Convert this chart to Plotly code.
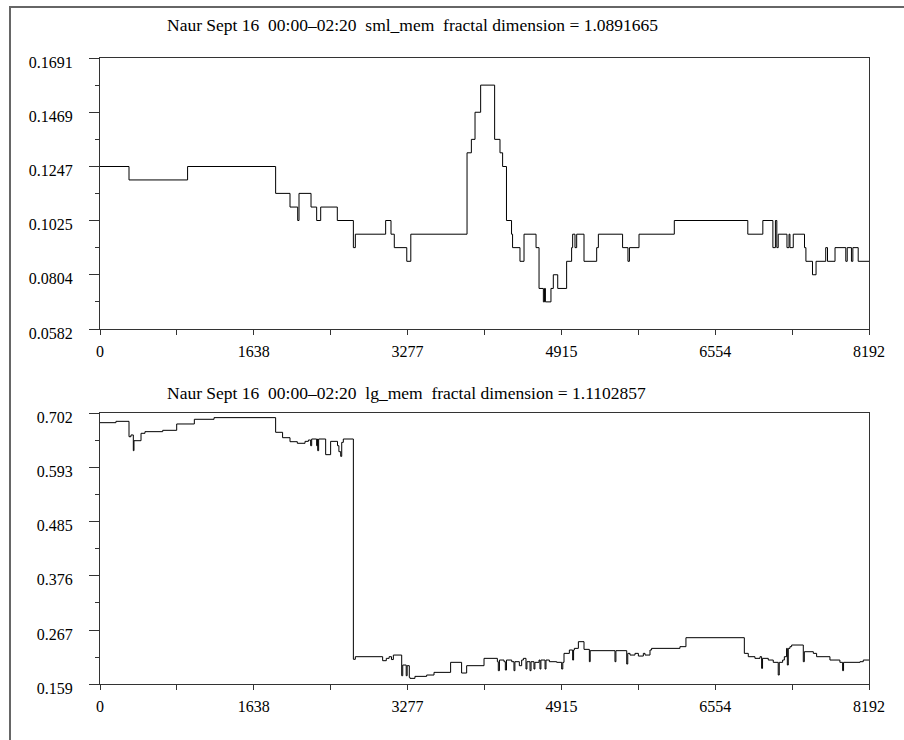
import plotly.graph_objects as go

W, H = 904, 740

# ---------------- data ----------------
top_title = "Naur Sept 16  00:00\u201302:20  sml_mem  fractal dimension = 1.0891665"
bot_title = "Naur Sept 16  00:00\u201302:20  lg_mem  fractal dimension = 1.1102857"

x_tickvals = [0, 1638.4, 3276.8, 4915.2, 6553.6, 8192]
x_ticktext = ["0", "1638", "3277", "4915", "6554", "8192"]
x_minorvals = [819.2, 2457.6, 4096.0, 5734.4, 7372.8]

top_yticks = [0.0582, 0.0804, 0.1025, 0.1247, 0.1469, 0.1691]
top_yminor = [0.0693, 0.0915, 0.1136, 0.1358, 0.1580]
bot_yticks = [0.159, 0.267, 0.376, 0.485, 0.593, 0.702]
bot_yminor = [0.213, 0.3215, 0.4305, 0.539, 0.6475]

top_idx = [0, 309, 933, 1871, 2024, 2106, 2120, 2248, 2308, 2351, 2528, 2699, 2720,
           3043, 3100, 3135, 3268, 3311, 3910, 3956, 3995, 4055, 4204, 4261, 4289,
           4330, 4384, 4395, 4474, 4517, 4645, 4677, 4723, 4735, 4745, 4804, 4829,
           4876, 4971, 5024, 5035, 5060, 5078, 5156, 5291, 5309, 5567, 5624, 5640,
           5742, 6118, 6901, 7061, 7168, 7195, 7210, 7225, 7318, 7340, 7350, 7385,
           7505, 7520, 7590, 7628, 7731, 7750, 7830, 7945, 7960, 8005, 8020, 8077, 8192]
top_val = [0.1247, 0.1192, 0.1247, 0.1137, 0.1081, 0.1026, 0.1137, 0.1081, 0.1026, 0.1081,
           0.1026, 0.0915, 0.0970, 0.1026, 0.0970, 0.0915, 0.0859, 0.0970, 0.1303, 0.1358,
           0.1469, 0.1580, 0.1358, 0.1303, 0.1247, 0.1026, 0.0970, 0.0915, 0.0859, 0.0970,
           0.0915, 0.0748, 0.0693, 0.0748, 0.0693, 0.0748, 0.0804, 0.0748, 0.0859, 0.0915,
           0.0970, 0.0915, 0.0970, 0.0859, 0.0915, 0.0970, 0.0915, 0.0859, 0.0915, 0.0970,
           0.1026, 0.0970, 0.1026, 0.0915, 0.1026, 0.0915, 0.0970, 0.0915, 0.0970, 0.0915,
           0.0970, 0.0915, 0.0859, 0.0804, 0.0859, 0.0915, 0.0859, 0.0915, 0.0859, 0.0915,
           0.0859, 0.0915, 0.0859, 0.0859]

bot_idx = [0, 170, 309, 330, 355, 362, 437, 479, 668, 817, 1005, 1215, 1871, 1945, 2024,
           2102, 2184, 2220, 2244, 2255, 2308, 2315, 2319, 2329, 2404, 2457, 2530, 2545,
           2564, 2575, 2592, 2699, 2720, 3011, 3050, 3080, 3105, 3125, 3214, 3225, 3262,
           3272, 3295, 3302, 3355, 3480, 3558, 3735, 3852, 3906, 4091, 4233, 4243, 4255,
           4304, 4318, 4330, 4386, 4410, 4420, 4467, 4492, 4510, 4538, 4548, 4581, 4592,
           4623, 4633, 4677, 4687, 4697, 4741, 4751, 4787, 4865, 4918, 4930, 4943, 5000,
           5035, 5045, 5053, 5096, 5156, 5213, 5222, 5486, 5496, 5611, 5622, 5646, 5699,
           5735, 5788, 5806, 5859, 5876, 6178, 6242, 6864, 6906, 6977, 7031, 7048, 7058,
           7119, 7172, 7225, 7236, 7272, 7290, 7314, 7322, 7332, 7350, 7368, 7492, 7503,
           7599, 7634, 7776, 7882, 7911, 7921, 8096, 8131, 8192]
bot_val = [0.6826, 0.6853, 0.6545, 0.6580, 0.6265, 0.6465, 0.6613, 0.6646, 0.6673, 0.6800,
           0.6894, 0.6927, 0.6633, 0.6525, 0.6445, 0.6413, 0.6452, 0.6479, 0.6365, 0.6499,
           0.6365, 0.6499, 0.6265, 0.6499, 0.6185, 0.6452, 0.6365, 0.6245, 0.6151, 0.6432,
           0.6499, 0.2085, 0.2137, 0.2057, 0.2104, 0.2137, 0.2080, 0.2170, 0.1756, 0.1970,
           0.1756, 0.1957, 0.1723, 0.1703, 0.1743, 0.1770, 0.1823, 0.2024, 0.1810, 0.1957,
           0.2104, 0.2037, 0.1857, 0.2070, 0.2037, 0.1870, 0.2070, 0.2037, 0.1857, 0.2037,
           0.1957, 0.2070, 0.2104, 0.1890, 0.2037, 0.1857, 0.2037, 0.1890, 0.2024, 0.2070,
           0.1890, 0.2070, 0.1890, 0.2070, 0.2037, 0.2024, 0.1890, 0.2024, 0.2204, 0.2271,
           0.2070, 0.2271, 0.2304, 0.2438, 0.2284, 0.2037, 0.2258, 0.2037, 0.2258, 0.1990,
           0.2204, 0.2170, 0.2204, 0.2150, 0.2204, 0.2170, 0.2271, 0.2304, 0.2338, 0.2518,
           0.2204, 0.2137, 0.2104, 0.2137, 0.1903, 0.2104, 0.2070, 0.2024, 0.1770, 0.2024,
           0.2070, 0.2137, 0.2304, 0.1970, 0.2304, 0.2338, 0.2371, 0.2037, 0.2237, 0.2204,
           0.2137, 0.2070, 0.2024, 0.1857, 0.2024, 0.2037, 0.2070, 0.2070]

# ---------------- figure ----------------
FONT = "Liberation Serif"
AXC = "#333333"
TICKSIZE = 16
TITLESIZE = 17.5

fig = go.Figure()
fig.add_trace(go.Scatter(x=top_idx, y=top_val, mode="lines", line_shape="hv",
                         line=dict(color="black", width=1), xaxis="x", yaxis="y",
                         showlegend=False, hoverinfo="skip"))
fig.add_trace(go.Scatter(x=bot_idx, y=bot_val, mode="lines", line_shape="hv",
                         line=dict(color="black", width=1), xaxis="x2", yaxis="y2",
                         showlegend=False, hoverinfo="skip"))

xd = [100 / W, 869 / W]
yd_top = [1 - 329 / H, 1 - 58 / H]
yd_bot = [1 - 684 / H, 1 - 413 / H]


def xaxis(anchor):
    return dict(domain=xd, anchor=anchor, range=[0, 8192], tickmode="array",
                tickvals=x_tickvals, ticktext=x_ticktext, ticks="outside", ticklen=5,
                tickwidth=1, tickcolor=AXC, showline=True, linecolor=AXC, linewidth=1,
                mirror=True, showgrid=False, zeroline=False, ticklabelstandoff=3,
                automargin=False,
                tickfont=dict(family=FONT, size=TICKSIZE, color="black"),
                minor=dict(tickmode="array", tickvals=x_minorvals, ticks="outside",
                           ticklen=5, tickwidth=1, tickcolor=AXC, showgrid=False))


def yaxis(anchor, dom, ticks, minor):
    return dict(domain=dom, anchor=anchor, range=[ticks[0], ticks[-1]], tickmode="array",
                tickvals=ticks, ticktext=[str(t) for t in ticks], ticks="outside",
                ticklen=10, tickwidth=1, tickcolor=AXC, showline=True, linecolor=AXC,
                linewidth=1, mirror=True, showgrid=False, zeroline=False,
                ticklabelstandoff=13, ticklabelshift=4, automargin=False,
                tickfont=dict(family=FONT, size=TICKSIZE, color="black"),
                minor=dict(tickmode="array", tickvals=minor, ticks="outside", ticklen=4,
                           tickwidth=1, tickcolor=AXC, showgrid=False))


fig.update_layout(
    template="none",
    width=W, height=H,
    autosize=False,
    margin=dict(l=0, r=0, t=0, b=0, pad=0, autoexpand=False),
    paper_bgcolor="white", plot_bgcolor="white",
    xaxis=xaxis("y"), yaxis=yaxis("x", yd_top, top_yticks, top_yminor),
    xaxis2=xaxis("y2"), yaxis2=yaxis("x2", yd_bot, bot_yticks, bot_yminor),
    font=dict(family=FONT, size=TICKSIZE, color="black"),
    annotations=[
        dict(text=top_title, x=165 / W, y=1 - 25 / H, xref="paper", yref="paper",
             xanchor="left", yanchor="middle", showarrow=False,
             font=dict(family=FONT, size=TITLESIZE, color="black")),
        dict(text=bot_title, x=165 / W, y=1 - 393 / H, xref="paper", yref="paper",
             xanchor="left", yanchor="middle", showarrow=False,
             font=dict(family=FONT, size=TITLESIZE, color="black")),
    ],
    shapes=[
        dict(type="rect", xref="paper", yref="paper", x0=10 / W, x1=1.2,
             y0=-0.2, y1=1 - 7 / H, line=dict(color="#666666", width=2),
             fillcolor="rgba(0,0,0,0)", layer="below"),
    ],
)

fig.write_html(
    "out.html",
    config={"displayModeBar": False, "responsive": False},
    post_script="document.body.style.margin='0';document.body.style.overflow='hidden';",
)
